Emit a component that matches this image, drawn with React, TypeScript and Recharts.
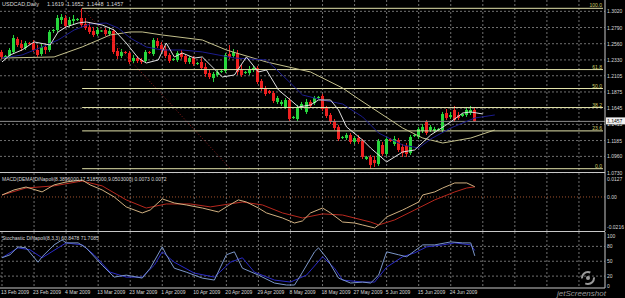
import React from "react";
import { ComposedChart, Bar, Line, XAxis, YAxis, CartesianGrid, ReferenceLine } from "recharts";

const FONT = '"Liberation Sans", Arial, sans-serif';
const TXT = "#d8d8d8";
const GRID = "#707070";
const FRAME = "#c8c8c8";
const UP = "#27d63c";
const DOWN = "#ee2020";
const FIB = "#e2e2aa";

// daily bars from 13 Feb 2009 (MT4 also prints the short Sunday bars)
const opens = [
  1.2443, 1.2357, 1.2386, 1.2443, 1.2627, 1.2556, 1.2499, 1.257, 1.257, 1.2471,
  1.2414, 1.2514, 1.2471, 1.2741, 1.2755, 1.2897, 1.2925, 1.2826, 1.2883, 1.2897,
  1.2925, 1.284, 1.2798, 1.2741, 1.2698, 1.2741, 1.2755, 1.2698, 1.2741, 1.2457,
  1.2386, 1.2443, 1.2428, 1.2315, 1.2357, 1.2329, 1.2315, 1.2443, 1.2414, 1.2599,
  1.2542, 1.2485, 1.24, 1.2329, 1.2329, 1.2428, 1.2386, 1.2301, 1.2357, 1.2272,
  1.2301, 1.223, 1.2144, 1.2073, 1.2116, 1.2159, 1.2173, 1.2414, 1.2386, 1.2428,
  1.2187, 1.2144, 1.2144, 1.2187, 1.2215, 1.2031, 1.1931, 1.1889, 1.186, 1.1733,
  1.1704, 1.1662, 1.1761, 1.1505, 1.1491, 1.1647, 1.1591, 1.1733, 1.1718, 1.1789,
  1.1818, 1.1647, 1.1548, 1.1463, 1.1378, 1.1221, 1.1221, 1.1264, 1.1165, 1.1221,
  1.1179, 1.0923, 1.0952, 1.0909, 1.0852, 1.1122, 1.0994, 1.1207, 1.1136, 1.1193,
  1.1094, 1.1108, 1.1008, 1.125, 1.1236, 1.1321, 1.1449, 1.1335, 1.1321, 1.1335,
  1.1335, 1.1576, 1.152, 1.1619, 1.1548, 1.1534, 1.1548, 1.1576, 1.1619,
];
const highs = [
  1.2471, 1.24, 1.2499, 1.2684, 1.2656, 1.2613, 1.2599, 1.2585, 1.2613, 1.2542,
  1.2556, 1.2556, 1.2755, 1.2769, 1.2968, 1.2982, 1.2968, 1.294, 1.2968, 1.2925,
  1.3063, 1.2925, 1.2869, 1.2798, 1.2798, 1.2755, 1.2783, 1.2783, 1.2769, 1.2499,
  1.2485, 1.2457, 1.2457, 1.24, 1.2386, 1.2357, 1.2471, 1.2457, 1.2641, 1.2641,
  1.2585, 1.2528, 1.2428, 1.2357, 1.2457, 1.2471, 1.2414, 1.2386, 1.2386, 1.2301,
  1.2357, 1.2286, 1.2187, 1.2159, 1.2187, 1.2187, 1.2428, 1.2542, 1.2485, 1.2471,
  1.2258, 1.2173, 1.2244, 1.2244, 1.2244, 1.2059, 1.196, 1.1903, 1.1889, 1.1818,
  1.1761, 1.1789, 1.1789, 1.1534, 1.169, 1.1733, 1.1775, 1.1761, 1.1818, 1.1818,
  1.1846, 1.1676, 1.1576, 1.1491, 1.1406, 1.125, 1.1292, 1.1292, 1.125, 1.1264,
  1.1207, 1.0966, 1.098, 1.0966, 1.1207, 1.1165, 1.1236, 1.1221, 1.125, 1.1221,
  1.1136, 1.115, 1.1264, 1.1278, 1.1378, 1.142, 1.1477, 1.1406, 1.1378, 1.1363,
  1.1591, 1.1633, 1.1591, 1.1676, 1.1591, 1.1576, 1.1662, 1.1676, 1.1652,
];
const lows = [
  1.2343, 1.2343, 1.2357, 1.2414, 1.2514, 1.2457, 1.2471, 1.2542, 1.2443, 1.2372,
  1.2386, 1.2414, 1.2443, 1.2712, 1.2727, 1.284, 1.2783, 1.2798, 1.2826, 1.2883,
  1.2798, 1.2755, 1.2698, 1.2656, 1.267, 1.2727, 1.267, 1.267, 1.2414, 1.2343,
  1.2357, 1.2414, 1.2272, 1.2286, 1.2286, 1.2272, 1.2286, 1.2414, 1.2386, 1.2499,
  1.2443, 1.2357, 1.2286, 1.2315, 1.2301, 1.2343, 1.2272, 1.2272, 1.2244, 1.2258,
  1.2187, 1.2088, 1.2059, 1.2017, 1.2088, 1.2144, 1.2144, 1.2343, 1.2357, 1.2116,
  1.2088, 1.213, 1.2116, 1.2159, 1.1988, 1.1889, 1.1818, 1.1846, 1.1718, 1.1704,
  1.1676, 1.1633, 1.1463, 1.1491, 1.1463, 1.1619, 1.1562, 1.1647, 1.169, 1.1775,
  1.1605, 1.1505, 1.142, 1.1335, 1.1179, 1.1207, 1.1193, 1.1136, 1.1136, 1.1136,
  1.0923, 1.0909, 1.0788, 1.081, 1.0824, 1.0966, 1.0966, 1.1165, 1.1108, 1.1023,
  1.0952, 1.0952, 1.098, 1.1236, 1.1207, 1.1292, 1.1264, 1.1307, 1.1307, 1.1321,
  1.1307, 1.1477, 1.1491, 1.1449, 1.1477, 1.152, 1.152, 1.1548, 1.1448,
];
const closes = [
  1.2372, 1.2386, 1.2471, 1.2641, 1.2542, 1.2499, 1.257, 1.2556, 1.2471, 1.24,
  1.2514, 1.2471, 1.2727, 1.2755, 1.2925, 1.294, 1.2812, 1.2897, 1.2911, 1.2911,
  1.2826, 1.2783, 1.2727, 1.2684, 1.2755, 1.2748, 1.2698, 1.2741, 1.2443, 1.2386,
  1.2443, 1.2428, 1.2301, 1.2357, 1.2315, 1.2301, 1.2443, 1.2428, 1.2613, 1.2528,
  1.2471, 1.2386, 1.2315, 1.2343, 1.2428, 1.2372, 1.2301, 1.2357, 1.2272, 1.2286,
  1.2215, 1.213, 1.2088, 1.213, 1.2159, 1.2173, 1.24, 1.2372, 1.2443, 1.2159,
  1.2116, 1.2159, 1.2201, 1.2215, 1.2017, 1.1917, 1.1846, 1.186, 1.1747, 1.1789,
  1.1733, 1.1761, 1.1491, 1.152, 1.1662, 1.1704, 1.1733, 1.1676, 1.1789, 1.1804,
  1.1633, 1.1534, 1.1449, 1.1363, 1.1207, 1.1236, 1.1264, 1.1165, 1.1221, 1.1165,
  1.0952, 1.0952, 1.0838, 1.0866, 1.1179, 1.0994, 1.1207, 1.1179, 1.1207, 1.1051,
  1.1008, 1.0994, 1.1236, 1.1264, 1.1349, 1.1378, 1.1292, 1.1378, 1.1349, 1.1349,
  1.1562, 1.1505, 1.1548, 1.1477, 1.1505, 1.1562, 1.1619, 1.1619, 1.1457,
];

const dateLabels = [
  "13 Feb 2009", "23 Feb 2009", "4 Mar 2009", "13 Mar 2009", "23 Mar 2009",
  "1 Apr 2009", "10 Apr 2009", "20 Apr 2009", "29 Apr 2009", "8 May 2009",
  "18 May 2009", "27 May 2009", "5 Jun 2009", "15 Jun 2009", "24 Jun 2009",
];
const LABEL_STEP = 8;
const TOTAL_BARS = 151; // empty space on the right (chart shift)

const priceTicks = [1.302, 1.279, 1.256, 1.233, 1.2105, 1.1875, 1.1645, 1.1415, 1.1185, 1.096, 1.073];
const macdTicks = [0.0127, 0, -0.0216];
const stochTicks = [100, 80, 50, 20, 0];

const fibLevels = [
  { name: "100.0", price: 1.3063 },
  { name: "61.8", price: 1.2193 },
  { name: "50.0", price: 1.1924 },
  { name: "38.2", price: 1.1654 },
  { name: "23.6", price: 1.1322 },
  { name: "0.0", price: 1.0785 },
];
const fibFrom = 20;
const fibBase = [{ x: 20, y: 1.3063 }, { x: 57, y: 1.0785 }];
const lastClose = 1.1457;
const headerQuote = ["1.1619", "1.1652", "1.1448", "1.1457"];

// displaced moving averages, read at sample bars
const fastMA: [number, number][] = [
  [0, 1.2301], [2, 1.24], [5, 1.2471], [8, 1.2585], [12, 1.2542], [14, 1.2727], [16, 1.2798],
  [19, 1.2854], [21, 1.2869], [25, 1.2826], [28, 1.2755], [31, 1.257], [34, 1.2357], [36, 1.2286],
  [39, 1.2329], [41, 1.257], [43, 1.2372], [45, 1.2428], [48, 1.2357], [50, 1.2372], [55, 1.2088],
  [58, 1.2116], [61, 1.2372], [64, 1.2159], [66, 1.2187], [69, 1.1903], [72, 1.1761], [74, 1.1662],
  [77, 1.169], [79, 1.1761], [82, 1.1761], [84, 1.1619], [86, 1.1378], [90, 1.1193], [92, 1.1079],
  [96, 1.0881], [100, 1.1023], [103, 1.1051], [107, 1.1264], [112, 1.1449], [115, 1.1576],
  [117, 1.1591], [120, 1.1562],
];
const midMA: [number, number][] = [
  [0, 1.2357], [5, 1.24], [10, 1.2514], [14, 1.2613], [18, 1.2755], [22, 1.284], [26, 1.2854],
  [29, 1.2783], [32, 1.2641], [36, 1.2514], [40, 1.2471], [45, 1.2471], [50, 1.2443], [58, 1.2357],
  [66, 1.2329], [72, 1.2002], [75, 1.1832], [80, 1.1761], [85, 1.1704], [90, 1.152], [94, 1.1292],
  [100, 1.1122], [104, 1.1079], [107, 1.1207], [112, 1.1363], [118, 1.1505], [123, 1.1548],
];
const slowMA: [number, number][] = [
  [0, 1.2357], [13, 1.2372], [20, 1.2514], [27, 1.2684], [32, 1.2727], [35, 1.2727], [40, 1.2684],
  [50, 1.2613], [56, 1.2471], [66, 1.2301], [77, 1.2159], [85, 1.1931], [89, 1.1775], [100, 1.1363],
  [105, 1.1221], [110, 1.115], [117, 1.1221], [123, 1.1335],
];

const macdMain: [number, number][] = [
  [0, 0.0014], [3, 0.005], [6, 0.0071], [10, 0.0036], [13, 0.0086], [16, 0.0107], [20, 0.0121],
  [22, 0.0086], [25, 0.005], [28, 0], [31, -0.0071], [35, -0.0114], [37, -0.0093], [40, -0.0014],
  [43, -0.0043], [46, -0.0057], [50, -0.0079], [54, -0.0107], [56, -0.0071], [59, -0.0021],
  [61, -0.0036], [64, -0.0079], [66, -0.0114], [70, -0.015], [73, -0.0186], [75, -0.0171],
  [77, -0.0114], [80, -0.0079], [82, -0.0114], [85, -0.0179], [88, -0.0186], [90, -0.02],
  [93, -0.0221], [94, -0.02], [96, -0.0143], [100, -0.0093], [101, -0.0079], [104, -0.0036],
  [105, 0.0014], [108, 0.0036], [110, 0.0064], [113, 0.01], [116, 0.01], [118, 0.0073],
];
const macdSignal: [number, number][] = [
  [0, 0.0014], [6, 0.0064], [13, 0.0079], [20, 0.0114], [25, 0.0079], [31, -0.0021], [36, -0.0079],
  [41, -0.005], [47, -0.005], [52, -0.0071], [60, -0.0036], [65, -0.0057], [70, -0.0114],
  [75, -0.015], [80, -0.0121], [85, -0.0129], [92, -0.0179], [94, -0.02], [98, -0.0164],
  [103, -0.0093], [108, -0.0021], [113, 0.0036], [116, 0.0064], [118, 0.0072],
];

const stochMain: [number, number][] = [
  [0, 57], [2, 63], [4, 79], [6, 77], [9, 48], [10, 59], [13, 83], [15, 93], [16, 87], [19, 87],
  [21, 77], [25, 42], [28, 18], [31, 22], [35, 16], [37, 36], [40, 79], [41, 63], [43, 36], [46, 28],
  [50, 16], [53, 12], [56, 63], [58, 69], [60, 36], [64, 22], [68, 6], [71, 2], [73, 2], [75, 28],
  [78, 69], [79, 77], [81, 57], [84, 16], [87, 6], [90, 8], [92, 6], [94, 22], [96, 69], [99, 63],
  [101, 59], [105, 83], [108, 83], [112, 89], [115, 87], [117, 87], [118, 60.85],
];
const stochSignal: [number, number][] = [
  [0, 57], [4, 77], [7, 73], [10, 57], [14, 77], [16, 87], [20, 83], [23, 63], [27, 28], [31, 18],
  [35, 18], [38, 42], [40, 69], [43, 48], [48, 26], [53, 18], [57, 48], [60, 57], [63, 28], [68, 12],
  [72, 8], [76, 22], [80, 59], [83, 36], [85, 12], [90, 8], [93, 8], [96, 38], [100, 59], [103, 67],
  [106, 79], [110, 83], [113, 87], [117, 83], [118, 71.71],
];

const fastMap = new Map(fastMA);
const midMap = new Map(midMA);
const slowMap = new Map(slowMA);
const macdMap = new Map(macdMain);
const sigMap = new Map(macdSignal);
const kMap = new Map(stochMain);
const dMap = new Map(stochSignal);

const rows = Array.from({ length: TOTAL_BARS }, (_, i) => ({
  i,
  open: opens[i] ?? null,
  high: highs[i] ?? null,
  low: lows[i] ?? null,
  close: closes[i] ?? null,
  fast: fastMap.get(i) ?? null,
  mid: midMap.get(i) ?? null,
  slow: slowMap.get(i) ?? null,
  macd: macdMap.get(i) ?? null,
  signal: sigMap.get(i) ?? null,
  k: kMap.get(i) ?? null,
  d: dMap.get(i) ?? null,
}));

const labelBars = dateLabels.map((_, n) => n * LABEL_STEP);
const gridBars = rows.filter((r) => r.i % LABEL_STEP === 0).map((r) => r.i);

function Candle(props: any) {
  const { x, y, width, height, payload } = props;
  if (!payload || payload.high == null) return null;
  const span = payload.high - payload.low;
  const k = span > 0 ? height / span : 0;
  const yOpen = y + (payload.high - payload.open) * k;
  const yClose = y + (payload.high - payload.close) * k;
  const color = payload.close >= payload.open ? UP : DOWN;
  const cx = Math.round(x + width / 2) - 0.5;
  const top = Math.min(yOpen, yClose);
  const h = Math.max(1, Math.abs(yClose - yOpen));
  return (
    <g>
      <line x1={cx} x2={cx} y1={y} y2={y + height} stroke={color} strokeWidth={1} />
      <rect x={cx - 1.5} y={top} width={3} height={h} fill={color} />
    </g>
  );
}

const axisTick = (fmt: (v: number) => string) => (p: any) => (
  <text x={p.x} y={p.y} dy={2} fill={TXT} fontSize={5} fontFamily={FONT} textAnchor="start">
    {fmt(p.payload.value)}
  </text>
);

const dateTick = (p: any) => (
  <text x={p.x - 1} y={p.y + 6} fill={TXT} fontSize={5} fontFamily={FONT} textAnchor="start">
    {dateLabels[p.payload.value / LABEL_STEP]}
  </text>
);

const BidTag = (p: any) => {
  const vb = p.viewBox;
  const x = vb.x + vb.width + 1;
  return (
    <g>
      <rect x={x} y={vb.y - 4} width={19} height={7} fill="#f2f2f2" />
      <text x={x + 1} y={vb.y + 1.5} fill="#000" fontSize={5} fontFamily={FONT}>
        {lastClose.toFixed(4)}
      </text>
    </g>
  );
};

const rightAxis = {
  orientation: "right" as const,
  width: 20,
  tickSize: 0,
  tickMargin: 2,
  tickLine: false,
  axisLine: { stroke: FRAME },
  allowDataOverflow: true,
  interval: 0 as const,
};

const lineProps = {
  strokeWidth: 1,
  dot: false,
  activeDot: false,
  connectNulls: true,
  isAnimationActive: false,
};

export default function App() {
  return (
    <div style={{ position: "absolute", left: 0, top: 0, width: 625, height: 298, background: "#000", overflow: "hidden" }}>
      <style>{"body{margin:0;background:#000}.recharts-surface{overflow:visible}"}</style>

      <div style={{ position: "absolute", left: 0, top: 0 }}>
        <ComposedChart width={625} height={173} data={rows} margin={{ top: 0, right: 0, bottom: 0, left: 0 }} barCategoryGap={0}>
          <CartesianGrid stroke={GRID} strokeDasharray="2 2" horizontalValues={priceTicks} verticalValues={gridBars} />
          <XAxis dataKey="i" hide scale="band" />
          <YAxis {...rightAxis} domain={[1.0724, 1.3181]} ticks={priceTicks} tick={axisTick((v) => v.toFixed(4))} />
          <ReferenceLine segment={fibBase} stroke="#8a1c1c" strokeDasharray="1 2" ifOverflow="visible" />
          {fibLevels.map((f) => (
            <ReferenceLine
              key={f.name}
              segment={[{ x: fibFrom, y: f.price }, { x: TOTAL_BARS - 1, y: f.price }]}
              stroke={FIB}
              ifOverflow="visible"
              label={{ value: f.name, position: "insideBottomRight", offset: 1, fill: "#cfcf6a", fontSize: 5, fontFamily: FONT }}
            />
          ))}
          <ReferenceLine y={lastClose} stroke="#8c8c8c" label={<BidTag />} />
          <Bar dataKey={(d: any) => (d.high == null ? null : [d.low, d.high])} shape={<Candle />} activeBar={false} isAnimationActive={false} />
          <Line dataKey="slow" stroke="#c4c08c" {...lineProps} />
          <Line dataKey="mid" stroke="#1c1c8e" {...lineProps} />
          <Line dataKey="fast" stroke="#e0e0e0" {...lineProps} />
        </ComposedChart>
      </div>

      <div style={{ position: "absolute", left: 0, top: 173 }}>
        <ComposedChart width={625} height={58} data={rows} margin={{ top: 0, right: 0, bottom: 0, left: 0 }}>
          <CartesianGrid stroke={GRID} strokeDasharray="2 2" horizontal={false} verticalValues={gridBars} />
          <XAxis dataKey="i" hide scale="band" />
          <YAxis {...rightAxis} domain={[-0.0243, 0.0171]} ticks={macdTicks} tick={axisTick((v) => (v === 0 ? "0.00" : v.toFixed(4)))} />
          <ReferenceLine y={0} stroke="#a0522d" strokeDasharray="1 2" />
          <Line dataKey="signal" stroke="#b8281e" {...lineProps} />
          <Line dataKey="macd" stroke="#d0b080" {...lineProps} />
        </ComposedChart>
      </div>

      <div style={{ position: "absolute", left: 0, top: 232 }}>
        <ComposedChart width={625} height={66} data={rows} margin={{ top: 0, right: 0, bottom: 0, left: 0 }}>
          <CartesianGrid stroke={GRID} strokeDasharray="2 2" horizontalValues={[80, 50, 20]} verticalValues={gridBars} />
          <XAxis
            dataKey="i"
            scale="band"
            height={10}
            ticks={labelBars}
            interval={0}
            tickSize={0}
            tickMargin={0}
            tickLine={false}
            axisLine={{ stroke: FRAME }}
            tick={dateTick}
          />
          <YAxis {...rightAxis} domain={[-4, 109]} ticks={stochTicks} tick={axisTick((v) => String(v))} />
          <Line dataKey="d" stroke="#2a2ac8" {...lineProps} />
          <Line dataKey="k" stroke="#7b96c8" {...lineProps} />
        </ComposedChart>
      </div>

      <svg width={625} height={298} style={{ position: "absolute", left: 0, top: 0, pointerEvents: "none" }}>
        <line x1={0} x2={605} y1={172.5} y2={172.5} stroke={FRAME} />
        <line x1={0} x2={605} y1={231.5} y2={231.5} stroke={FRAME} />
        <text x={2} y={6} fill={TXT} fontSize={5.5} fontFamily={FONT}>
          USDCAD,Daily
          {headerQuote.map((q, n) => (
            <tspan key={n} dx={n === 0 ? 8 : 3}>{q}</tspan>
          ))}
        </text>
        <text x={2} y={181} fill={TXT} fontSize={5} fontFamily={FONT}>
          MACD(DEMA)DiNapoli(8.3896000,17.5185000,9.0503000) 0.0073 0.0072
        </text>
        <text x={2} y={240} fill={TXT} fontSize={5} fontFamily={FONT}>
          Stochastic DiNapoli(8,3,3) 60.8478 71.7085
        </text>
        <circle cx={588} cy={278} r={6} fill="none" stroke="#9a9a9a" strokeWidth={2} strokeDasharray="12 6" />
        <circle cx={588} cy={278} r={2} fill="#9a9a9a" />
        <text x={557} y={296} fill="#9a9a9a" fontSize={8} fontStyle="italic" fontFamily={FONT}>
          jetScreenshot
        </text>
      </svg>
    </div>
  );
}
